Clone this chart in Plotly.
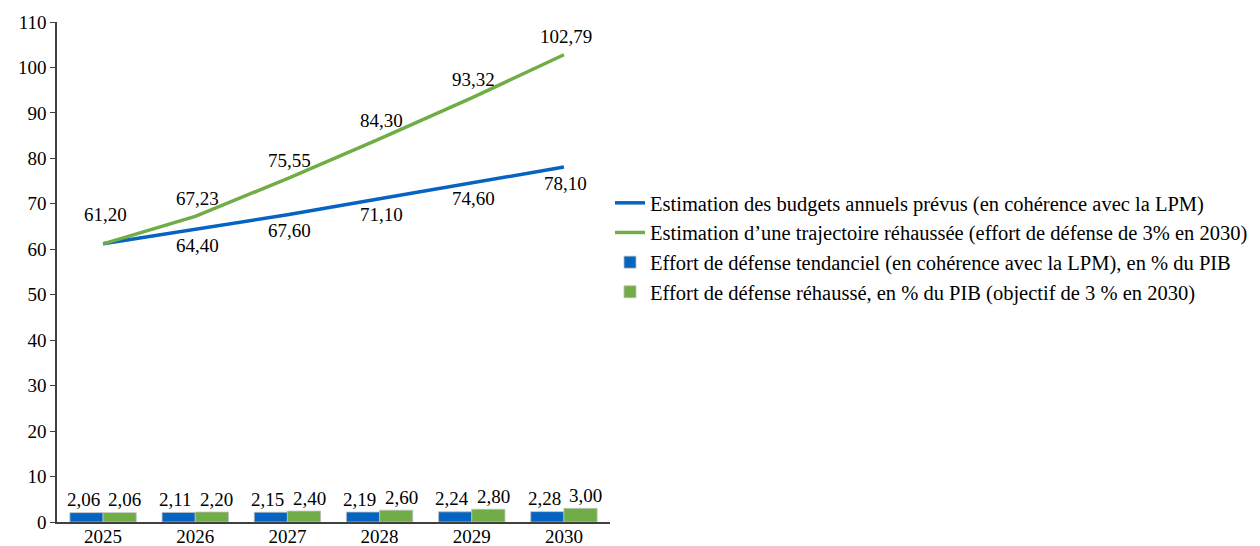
import plotly.graph_objects as go

years = ["2025", "2026", "2027", "2028", "2029", "2030"]
budget_lpm = [61.20, 64.40, 67.60, 71.10, 74.60, 78.10]
budget_high = [61.20, 67.23, 75.55, 84.30, 93.32, 102.79]
effort_lpm = [2.06, 2.11, 2.15, 2.19, 2.24, 2.28]
effort_high = [2.06, 2.20, 2.40, 2.60, 2.80, 3.00]

names = [
    "Estimation des budgets annuels prévus (en cohérence avec la LPM)",
    "Estimation d\u2019une trajectoire réhaussée (effort de défense de 3% en 2030)",
    "Effort de défense tendanciel (en cohérence avec la LPM), en % du PIB",
    "Effort de défense réhaussé, en % du PIB (objectif de 3 % en 2030)",
]

BLUE = "#0563C1"
GREEN = "#70AD47"
FONT = "Liberation Serif, serif"
LBL = 19


def fmt(v):
    return f"{v:.2f}".replace(".", ",")


fig = go.Figure()

fig.add_trace(go.Scatter(
    x=years, y=budget_lpm, mode="lines", name=names[0],
    line=dict(color=BLUE, width=3.5),
))
fig.add_trace(go.Scatter(
    x=years, y=budget_high, mode="lines", name=names[1],
    line=dict(color=GREEN, width=3.5),
))
fig.add_trace(go.Bar(
    x=years, y=effort_lpm, name=names[2],
    marker=dict(color=BLUE, line=dict(color="#BFBFBF", width=0.8)),
))
fig.add_trace(go.Bar(
    x=years, y=effort_high, name=names[3],
    marker=dict(color=GREEN, line=dict(color="#BFBFBF", width=0.8)),
))

ann_font = dict(size=LBL, color="black", family=FONT)
# line labels
for i, v in enumerate(budget_lpm):
    fig.add_annotation(x=i, y=v, xref="x", yref="y", text=fmt(v), showarrow=False,
                       font=ann_font, yshift=(29 if i == 0 else -16), xshift=2)
for i, v in enumerate(budget_high):
    if i == 0:
        continue
    fig.add_annotation(x=i, y=v, xref="x", yref="y", text=fmt(v), showarrow=False,
                       font=ann_font, yshift=18, xshift=2)
# bar labels
for i, v in enumerate(effort_lpm):
    fig.add_annotation(x=i - 0.18, y=v, xref="x", yref="y", text=fmt(v), showarrow=False,
                       font=ann_font, yshift=13, xshift=-3)
for i, v in enumerate(effort_high):
    fig.add_annotation(x=i + 0.18, y=v, xref="x", yref="y", text=fmt(v), showarrow=False,
                       font=ann_font, yshift=13, xshift=5)

fig.update_layout(
    width=1260, height=546,
    margin=dict(l=57, r=650, t=22, b=24, autoexpand=False),
    paper_bgcolor="white", plot_bgcolor="white",
    font=dict(family=FONT, size=19, color="black"),
    barmode="group", bargap=0.28, bargroupgap=0,
    showlegend=True,
    legend=dict(
        x=1.0, xanchor="left", y=0.678, yanchor="top",
        font=dict(family=FONT, size=20.5, color="black"),
        traceorder="normal", itemwidth=30,
        bgcolor="rgba(0,0,0,0)", tracegroupgap=0,
    ),
)
fig.update_xaxes(
    type="category", showline=True, linecolor="#404040", linewidth=1.5,
    ticks="", showgrid=False, tickfont=dict(size=19, family=FONT, color="black"),
    automargin=False, ticklabelstandoff=-4,
)
fig.update_yaxes(
    range=[0, 110], dtick=10, showline=True, linecolor="#404040", linewidth=1.5,
    ticks="outside", ticklen=5, tickcolor="#404040", showgrid=False,
    zeroline=False, tickfont=dict(size=19, family=FONT, color="black"),
    automargin=False,
)

fig.write_html("out.html")
